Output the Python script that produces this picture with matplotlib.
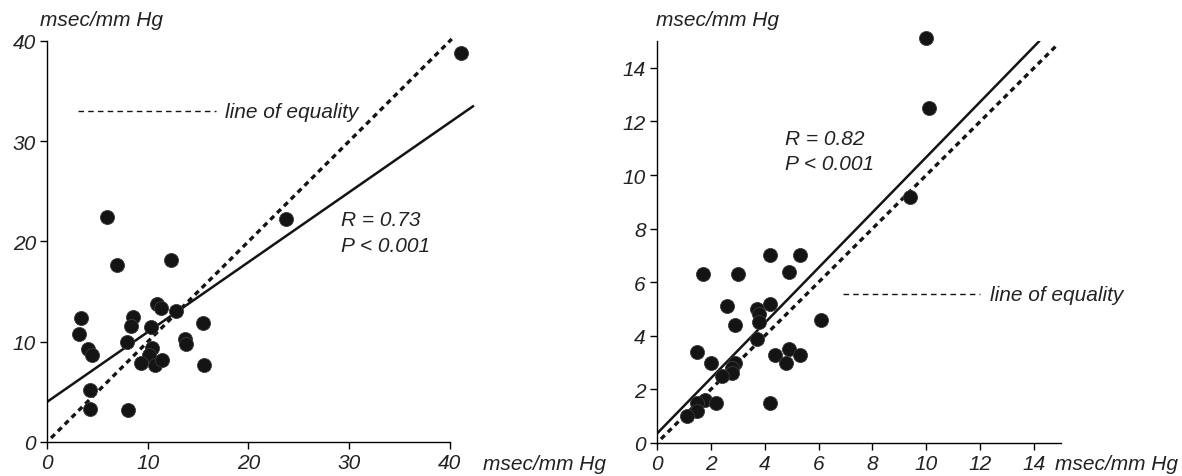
import numpy as np
import matplotlib.pyplot as plt

plt.rcParams['font.family'] = ['Liberation Sans', 'DejaVu Sans']

# left panel data (msec/mm Hg)
left_x = [41.1, 23.7, 6.0, 6.9, 12.3, 10.9, 11.3, 12.8, 3.4, 8.5, 8.3, 10.3, 15.5, 3.2,
          7.9, 13.7, 13.8, 4.1, 4.5, 10.4, 10.1, 9.3, 10.7, 11.4, 15.6, 4.3, 4.3, 8.0]
left_y = [38.8, 22.2, 22.4, 17.7, 18.2, 13.8, 13.4, 13.1, 12.4, 12.5, 11.6, 11.5, 11.9, 10.8,
          10.0, 10.3, 9.8, 9.3, 8.7, 9.4, 8.7, 7.9, 7.7, 8.2, 7.7, 5.2, 3.3, 3.2]
left_fit = (4.0, 0.697, 42.3)   # intercept, slope, x end
left_ticks = [0, 10, 20, 30, 40]

# right panel data (msec/mm Hg)
right_x = [10.0, 10.1, 9.4, 4.2, 5.3, 1.7, 3.0, 4.9, 2.6, 4.2, 3.7, 3.8, 6.1, 2.9, 3.8, 3.7,
           1.5, 2.0, 4.4, 4.9, 5.3, 4.8, 2.9, 2.8, 2.8, 2.4, 1.8, 1.5, 2.2, 4.2, 1.5, 1.1]
right_y = [15.1, 12.5, 9.2, 7.0, 7.0, 6.3, 6.3, 6.4, 5.1, 5.2, 5.0, 4.8, 4.6, 4.4, 4.5, 3.9,
           3.4, 3.0, 3.3, 3.5, 3.3, 3.0, 3.0, 2.8, 2.6, 2.5, 1.6, 1.5, 1.5, 1.5, 1.2, 1.0]
right_fit = (0.35, 1.032, 14.18)
right_ticks = [0, 2, 4, 6, 8, 10, 12, 14]

fig = plt.figure(figsize=(11.82, 4.77), dpi=100)
ax1 = fig.add_axes([0.0398, 0.0713, 0.3748, 0.8407])
ax2 = fig.add_axes([0.5558, 0.0692, 0.3418, 0.8425])


def style(ax, xlim, ylim, bound, ticks):
    ax.set_xlim(0, xlim)
    ax.set_ylim(0, ylim)
    for s in ['top', 'right']:
        ax.spines[s].set_visible(False)
    for s in ['left', 'bottom']:
        ax.spines[s].set_linewidth(1.0)
        ax.spines[s].set_bounds(0, bound)
    ax.set_xticks(ticks)
    ax.set_yticks(ticks)
    ax.tick_params(direction='out', length=5, width=1, labelsize=15, pad=3, labelcolor='#222222')
    for lab in ax.get_xticklabels() + ax.get_yticklabels():
        lab.set_fontstyle('italic')


style(ax1, 44, 40, 40, left_ticks)
style(ax2, 15, 15, 15, right_ticks)

eq_style = dict(color='#141414', lw=2.4, ls=(0, (1.6, 1.3)), zorder=2, clip_on=False)

# left panel
ax1.scatter(left_x, left_y, s=102, color='#141414', edgecolors='#3a3a3a', linewidths=0.6,
            zorder=3, clip_on=False)
xs = np.array([0, left_fit[2]])
ax1.plot(xs, left_fit[0] + left_fit[1] * xs, color='#141414', lw=1.8, zorder=2)
ax1.plot([0.4, 40.2], [0.4, 40.2], **eq_style)
ax1.plot([3.05, 16.8], [33.0, 33.0], color='#141414', lw=1.0, ls=(0, (4, 3)))
ax1.text(17.7, 33.0, 'line of equality', fontsize=15, style='italic', va='center', color='#222222')
ax1.text(29.2, 22.2, 'R = 0.73', fontsize=15, style='italic', va='center', color='#222222')
ax1.text(29.2, 19.6, 'P < 0.001', fontsize=15, style='italic', va='center', color='#222222')

# right panel
ax2.scatter(right_x, right_y, s=102, color='#141414', edgecolors='#3a3a3a', linewidths=0.6,
            zorder=3, clip_on=False)
xs = np.array([0, right_fit[2]])
ax2.plot(xs, right_fit[0] + right_fit[1] * xs, color='#141414', lw=1.8, zorder=2)
ax2.plot([0.15, 14.8], [0.15, 14.8], **eq_style)
ax2.plot([6.9, 12.0], [5.55, 5.55], color='#141414', lw=1.0, ls=(0, (4, 3)))
ax2.text(12.35, 5.55, 'line of equality', fontsize=15, style='italic', va='center', color='#222222')
ax2.text(4.74, 11.38, 'R = 0.82', fontsize=15, style='italic', va='center', color='#222222')
ax2.text(4.74, 10.44, 'P < 0.001', fontsize=15, style='italic', va='center', color='#222222')

# unit labels
for x, y in [(0.034, 0.958), (0.555, 0.958), (0.4086, 0.026), (0.8926, 0.026)]:
    fig.text(x, y, 'msec/mm Hg', fontsize=15, style='italic', va='center', ha='left',
             color='#222222')

fig.savefig('out.png', dpi=100)
